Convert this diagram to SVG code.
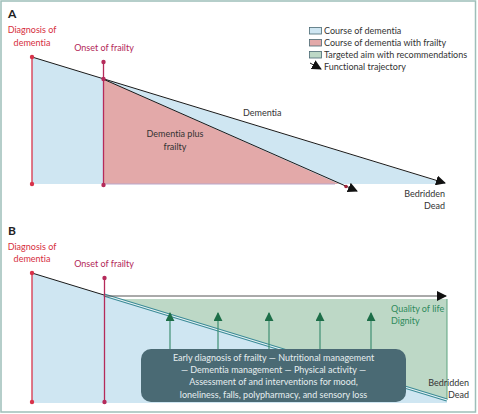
<svg xmlns="http://www.w3.org/2000/svg" width="478" height="414" viewBox="0 0 478 414">
<defs>
<style>
text{font-family:Lato,"Liberation Sans",sans-serif;font-size:9px;fill:#333;font-variant-ligatures:none}
.lbl{font-weight:bold;font-size:12px;fill:#222}
.red{fill:#d62e40}
.mag{fill:#b32858}
.grn{fill:#2f8a5c}
.box{fill:#e6eef0}
.dline{stroke:#d8334a;stroke-width:1.3}
.oline{stroke:#b52a5a;stroke-width:1.3}
.ddot{fill:#d8334a}
.odot{fill:#b52a5a}
.traj{stroke:#1a1a1a;stroke-width:1;fill:none}
.garr{stroke:#3f8f72;stroke-width:1.2}
</style>
<marker id="ah" viewBox="0 0 10 10" refX="9" refY="5" markerWidth="10" markerHeight="10" markerUnits="userSpaceOnUse" orient="auto">
<path d="M0,0 L10,5 L0,10 Z" fill="#111"/>
</marker>
<marker id="gh" viewBox="0 0 10 10" refX="9" refY="5" markerWidth="9" markerHeight="9" markerUnits="userSpaceOnUse" orient="auto">
<path d="M0,0 L10,5 L0,10 Z" fill="#1d6e48"/>
</marker>
</defs>
<rect x="1" y="1" width="474.5" height="411" fill="#fff" stroke="#9dbfb9" stroke-width="1.5"/>

<g id="areasA">
<polygon points="32,57 445,183.5 445,184 32,184" fill="#cfe6f2"/>
<polygon points="103,79 339,184 103,184" fill="#e3a9a9"/>
<line x1="103" y1="184" x2="335" y2="184" stroke="#b9a6c9" stroke-width="1"/>
</g>
<g id="areasB">
<polygon points="32,273 104,295 447,400 447,403 32,403" fill="#cfe6f2"/>
<polygon points="104,296 447,299 447,400 104,295" fill="#bdd8c6"/>
<polygon points="104,296 447,296 447,299 113,299" fill="#fff"/>
<line x1="447" y1="299" x2="447" y2="400" stroke="#5aa37f" stroke-width="1"/>
</g>

<g id="connectors">
<line class="traj" x1="32" y1="57" x2="445" y2="183" marker-end="url(#ah)"/>
<line class="traj" x1="103" y1="79" x2="357" y2="191" marker-end="url(#ah)"/>
<circle cx="346" cy="186.5" r="1.8" fill="#a3243a"/>
<line class="traj" x1="32" y1="273" x2="104" y2="295"/>
<line x1="104" y1="295" x2="447" y2="400" stroke="#3a8a96" stroke-width="3.2"/>
<line x1="104" y1="295" x2="447" y2="400" stroke="#eaf4f6" stroke-width="1.2"/>
<line x1="104" y1="296" x2="446" y2="296" stroke="#555" stroke-width="1" marker-end="url(#ah)"/>
<line class="garr" x1="170" y1="349" x2="170" y2="313" marker-end="url(#gh)"/>
<line class="garr" x1="218" y1="349" x2="218" y2="313" marker-end="url(#gh)"/>
<line class="garr" x1="269" y1="349" x2="269" y2="313" marker-end="url(#gh)"/>
<line class="garr" x1="320" y1="349" x2="320" y2="313" marker-end="url(#gh)"/>
<line class="garr" x1="371" y1="349" x2="371" y2="313" marker-end="url(#gh)"/>
</g>

<g id="markersA">
<line class="dline" x1="32" y1="57" x2="32" y2="184"/>
<circle class="ddot" cx="32" cy="57" r="2.2"/>
<circle class="ddot" cx="32" cy="184" r="2.2"/>
<line class="oline" x1="103.5" y1="62" x2="103.5" y2="185"/>
<circle class="odot" cx="103.5" cy="62" r="2.2"/>
<circle class="odot" cx="103.5" cy="79" r="2.2"/>
<circle class="odot" cx="103.5" cy="185" r="2.2"/>
</g>
<g id="markersB">
<line class="dline" x1="32" y1="273" x2="32" y2="402"/>
<circle class="ddot" cx="32" cy="273" r="2.2"/>
<circle class="ddot" cx="32" cy="402" r="2.2"/>
<line class="oline" x1="104.5" y1="278" x2="104.5" y2="402"/>
<circle class="odot" cx="104.5" cy="278" r="2.2"/>
<circle class="odot" cx="104.5" cy="402" r="2.2"/>
</g>

<g id="labelsA">
<text class="lbl" x="8" y="18">A</text>
<text class="red" x="32" y="33" text-anchor="middle">Diagnosis of</text>
<text class="red" x="32" y="46" text-anchor="middle">dementia</text>
<text class="mag" x="104" y="51" text-anchor="middle">Onset of frailty</text>
<text x="243" y="116">Dementia</text>
<text x="175" y="137" text-anchor="middle">Dementia plus</text>
<text x="175" y="150" text-anchor="middle">frailty</text>
<text x="445" y="197" text-anchor="end">Bedridden</text>
<text x="445" y="209" text-anchor="end">Dead</text>
</g>

<g id="legend">
<rect x="309.5" y="27.5" width="12" height="6.5" fill="#cfe6f2" stroke="#4a6a74" stroke-width="0.8"/>
<rect x="309.5" y="39.5" width="12" height="6.5" fill="#e3a9a9" stroke="#4a6a74" stroke-width="0.8"/>
<rect x="309.5" y="51.5" width="12" height="6.5" fill="#bdd8c6" stroke="#4a6a74" stroke-width="0.8"/>
<line class="traj" x1="310" y1="63" x2="321" y2="69" marker-end="url(#ah)"/>
<text x="324" y="34">Course of dementia</text>
<text x="324" y="46">Course of dementia with frailty</text>
<text x="324" y="58">Targeted aim with recommendations</text>
<text x="324" y="70">Functional trajectory</text>
</g>

<g id="labelsB">
<text class="lbl" x="8" y="235">B</text>
<text class="red" x="32" y="250" text-anchor="middle">Diagnosis of</text>
<text class="red" x="32" y="262" text-anchor="middle">dementia</text>
<text class="mag" x="104" y="267" text-anchor="middle">Onset of frailty</text>
<text class="grn" x="391" y="312">Quality of life</text>
<text class="grn" x="391" y="324">Dignity</text>
<text x="469" y="386" text-anchor="end">Bedridden</text>
<text x="469" y="398" text-anchor="end">Dead</text>
</g>

<g id="recommendations">
<rect x="141" y="349" width="265" height="53" rx="10" fill="#4a6a74"/>
<text class="box" x="273.5" y="360.5" text-anchor="middle">Early diagnosis of frailty — Nutritional management</text>
<text class="box" x="273.5" y="373" text-anchor="middle">— Dementia management — Physical activity —</text>
<text class="box" x="273.5" y="385" text-anchor="middle">Assessment of and interventions for mood,</text>
<text class="box" x="273.5" y="397.5" text-anchor="middle">loneliness, falls, polypharmacy, and sensory loss</text>
</g>
</svg>
